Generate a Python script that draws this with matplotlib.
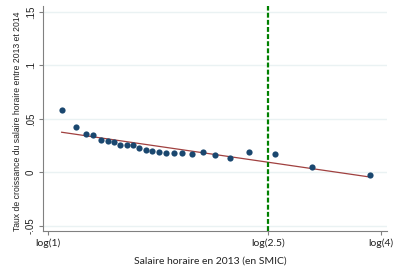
import numpy as np
import matplotlib
matplotlib.use("Agg")
import matplotlib.pyplot as plt

plt.rcParams['font.family'] = ['Liberation Sans', 'DejaVu Sans']

# log of hourly wage (in SMIC units)
log_wage = [0.057, 0.118, 0.157, 0.189, 0.220, 0.249, 0.275, 0.300, 0.328,
            0.354, 0.380, 0.407, 0.435, 0.464, 0.493, 0.525, 0.560, 0.599,
            0.645, 0.697, 0.760, 0.838, 0.946, 1.100, 1.340]
growth = [0.0580, 0.0427, 0.0361, 0.0349, 0.0305, 0.0290, 0.0286, 0.0255,
          0.0252, 0.0252, 0.0227, 0.0209, 0.0199, 0.0190, 0.0181, 0.0181,
          0.0181, 0.0174, 0.0187, 0.0165, 0.0137, 0.0187, 0.0168, 0.0050,
          -0.0025]
# linear fit: value at first and last x
fit_start = 0.0375
fit_end = -0.0044
threshold = 2.5
xtick_vals = [1, 2.5, 4]
xtick_labels = ['log(1)', 'log(2.5)', 'log(4)']
ytick_vals = [-0.05, 0, 0.05, 0.1, 0.15]
ytick_labels = ['-.05', '0', '.05', '.1', '.15']

fig = plt.figure(figsize=(4.01, 2.73), dpi=100)
ax = fig.add_axes([0.1072, 0.1538, 0.965 - 0.1072, 0.978 - 0.1538])

for yv in ytick_vals:
    ax.axhline(yv, color='#eaf2f3', lw=1.0, zorder=0)

ax.scatter(log_wage, growth, s=20, color='#1a476f', zorder=3, linewidths=0)
ax.plot([log_wage[0], log_wage[-1]], [fit_start, fit_end], color='#a0403f', lw=0.9, zorder=2)
vl = ax.axvline(np.log(threshold), color='#008000', lw=1.6, zorder=4)
vl.set_dashes((2.2, 1.0))

ax.set_xlim(-0.0208, 1.4125)
ax.set_ylim(-0.0550, 0.1557)
ax.set_xticks(np.log(xtick_vals))
ax.set_xticklabels(xtick_labels, family=['Lato', 'DejaVu Sans'], fontsize=7.5)
ax.set_yticks(ytick_vals)
ax.set_yticklabels(ytick_labels, rotation=90, va='center', fontsize=7)

for s in ['top', 'right']:
    ax.spines[s].set_visible(False)
for s in ['left', 'bottom']:
    ax.spines[s].set_color('#808080')
    ax.spines[s].set_linewidth(0.8)
ax.tick_params(axis='both', colors='#808080', labelcolor='#222222', length=3, width=0.8, pad=2)

ax.set_xlabel('Salaire horaire en 2013 (en SMIC)', fontsize=7.5, color='#222222',
              family=['Lato', 'DejaVu Sans'])
ax.xaxis.set_label_coords(0.485, -0.115)
ax.set_ylabel('Taux de croissance du salaire horaire entre 2013 et 2014', fontsize=6.2, color='#222222')
ax.yaxis.set_label_coords(-0.062, 0.49)

fig.savefig('out.png', dpi=100, facecolor='white')
